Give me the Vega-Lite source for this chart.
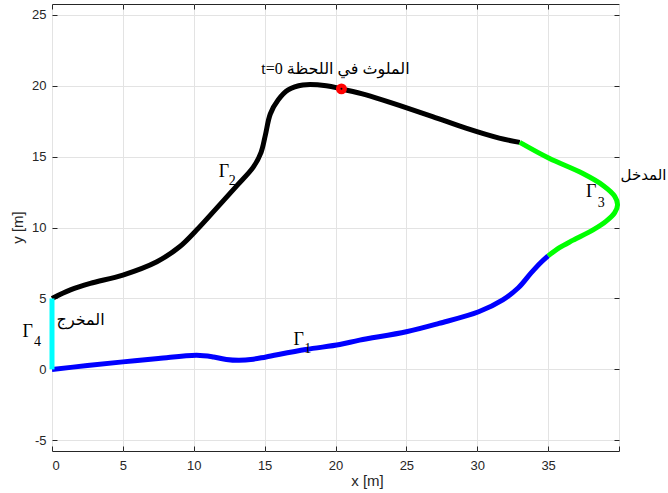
{
  "$schema": "https://vega.github.io/schema/vega-lite/v6.json",
  "width": 567,
  "height": 447,
  "autosize": "none",
  "padding": {"left": 52, "top": 4, "right": 49, "bottom": 42},
  "background": "white",
  "config": {
    "view": {"stroke": "#262626", "strokeWidth": 1},
    "axis": {
      "labelFont": "Liberation Sans",
      "labelFontSize": 13,
      "labelColor": "#262626",
      "titleFont": "Liberation Sans",
      "titleFontSize": 15,
      "titleFontWeight": "normal",
      "titleColor": "#262626",
      "gridColor": "#e3e3e3",
      "gridWidth": 1,
      "domain": false,
      "tickColor": "#262626",
      "tickSize": -5
    },
    "axisX": {"labelPadding": 13},
    "axisY": {"labelPadding": 11}
  },
  "datasets": {
    "curves": [
      {"c": "g1", "i": 0, "x": 0, "y": 0},
      {"c": "g1", "i": 1, "x": 2.5, "y": 0.27},
      {"c": "g1", "i": 2, "x": 5, "y": 0.53},
      {"c": "g1", "i": 3, "x": 7.5, "y": 0.77},
      {"c": "g1", "i": 4, "x": 10.2, "y": 1.0},
      {"c": "g1", "i": 5, "x": 11.4, "y": 0.88},
      {"c": "g1", "i": 6, "x": 12.3, "y": 0.7},
      {"c": "g1", "i": 7, "x": 13.2, "y": 0.64},
      {"c": "g1", "i": 8, "x": 14.2, "y": 0.72},
      {"c": "g1", "i": 9, "x": 15.1, "y": 0.88},
      {"c": "g1", "i": 10, "x": 17.9, "y": 1.4},
      {"c": "g1", "i": 11, "x": 20.3, "y": 1.75},
      {"c": "g1", "i": 12, "x": 21.7, "y": 2.06},
      {"c": "g1", "i": 13, "x": 25, "y": 2.65},
      {"c": "g1", "i": 14, "x": 27.3, "y": 3.24},
      {"c": "g1", "i": 15, "x": 30.1, "y": 4.06},
      {"c": "g1", "i": 16, "x": 31.8, "y": 4.9},
      {"c": "g1", "i": 17, "x": 32.9, "y": 5.75},
      {"c": "g1", "i": 18, "x": 33.8, "y": 6.8},
      {"c": "g1", "i": 19, "x": 34.45, "y": 7.5},
      {"c": "g1", "i": 20, "x": 35, "y": 8},
      {"c": "g2", "i": 0, "x": 0, "y": 5},
      {"c": "g2", "i": 1, "x": 1.3, "y": 5.6},
      {"c": "g2", "i": 2, "x": 2.7, "y": 6.06},
      {"c": "g2", "i": 3, "x": 5, "y": 6.65},
      {"c": "g2", "i": 4, "x": 7.4, "y": 7.59},
      {"c": "g2", "i": 5, "x": 9, "y": 8.64},
      {"c": "g2", "i": 6, "x": 10.2, "y": 9.82},
      {"c": "g2", "i": 7, "x": 11.6, "y": 11.35},
      {"c": "g2", "i": 8, "x": 13, "y": 12.9},
      {"c": "g2", "i": 9, "x": 14.2, "y": 14.25},
      {"c": "g2", "i": 10, "x": 14.75, "y": 15.3},
      {"c": "g2", "i": 11, "x": 15.05, "y": 16.5},
      {"c": "g2", "i": 12, "x": 15.4, "y": 18.0},
      {"c": "g2", "i": 13, "x": 15.95, "y": 18.98},
      {"c": "g2", "i": 14, "x": 16.66, "y": 19.69},
      {"c": "g2", "i": 15, "x": 17.7, "y": 20.04},
      {"c": "g2", "i": 16, "x": 19.35, "y": 19.99},
      {"c": "g2", "i": 17, "x": 20.47, "y": 19.75},
      {"c": "g2", "i": 18, "x": 22.16, "y": 19.35},
      {"c": "g2", "i": 19, "x": 24.5, "y": 18.6},
      {"c": "g2", "i": 20, "x": 26.85, "y": 17.82},
      {"c": "g2", "i": 21, "x": 29.2, "y": 17.0},
      {"c": "g2", "i": 22, "x": 31.55, "y": 16.3},
      {"c": "g2", "i": 23, "x": 33, "y": 16},
      {"c": "g3", "i": 0, "x": 33, "y": 16},
      {"c": "g3", "i": 1, "x": 35.07, "y": 14.88},
      {"c": "g3", "i": 2, "x": 37.42, "y": 13.82},
      {"c": "g3", "i": 3, "x": 38.9, "y": 12.95},
      {"c": "g3", "i": 4, "x": 39.7, "y": 12.2},
      {"c": "g3", "i": 5, "x": 39.9, "y": 11.6},
      {"c": "g3", "i": 6, "x": 39.7, "y": 11.05},
      {"c": "g3", "i": 7, "x": 39.1, "y": 10.45},
      {"c": "g3", "i": 8, "x": 38.2, "y": 9.85},
      {"c": "g3", "i": 9, "x": 36.77, "y": 9.11},
      {"c": "g3", "i": 10, "x": 35.8, "y": 8.58},
      {"c": "g3", "i": 11, "x": 35, "y": 8},
      {"c": "g4", "i": 0, "x": 0, "y": 0},
      {"c": "g4", "i": 1, "x": 0, "y": 5}
    ],
    "marker": [{"x": 20.42, "y": 19.77}],
    "labels": [
      {"kind": "gamma", "t": "Γ", "x": 12.13, "y": 13.55},
      {"kind": "gamma", "t": "Γ", "x": 17.41, "y": 1.71},
      {"kind": "gamma", "t": "Γ", "x": 38.04, "y": 12.17},
      {"kind": "gamma", "t": "Γ", "x": -1.71, "y": 2.29},
      {"kind": "sub", "t": "2", "x": 12.72, "y": 12.99},
      {"kind": "sub", "t": "1", "x": 18.05, "y": 1.14},
      {"kind": "sub", "t": "3", "x": 38.74, "y": 11.46},
      {"kind": "sub", "t": "4", "x": -1.02, "y": 1.64},
      {"kind": "arabic", "t": "t=0 الملوث في اللحظة", "x": 20.0, "y": 20.82},
      {"kind": "arabic", "t": "المخرج", "x": 2.02, "y": 3.12}
    ],
    "rlabels": [
      {"t": "المدخل", "x": 43.35, "y": 13.32}
    ]
  },
  "resolve": {"axis": {"x": "independent", "y": "independent"}},
  "layer": [
    {
      "data": {"name": "curves"},
      "mark": {"type": "line", "strokeWidth": 5, "interpolate": "catmull-rom", "strokeCap": "butt"},
      "encoding": {
        "x": {"field": "x", "type": "quantitative", "scale": {"domain": [0, 40], "nice": false, "zero": false},
              "axis": {"values": [0, 5, 10, 15, 20, 25, 30, 35, 40], "labelExpr": "datum.value == 40 ? '' : '' + datum.value", "title": "x [m]", "titleX": 315, "titleY": 34, "titleBaseline": "alphabetic", "titleAnchor": null}},
        "y": {"field": "y", "type": "quantitative", "scale": {"domain": [-5.75, 25.75], "nice": false, "zero": false},
              "axis": {"values": [-5, 0, 5, 10, 15, 20, 25], "labelExpr": "'' + datum.value", "title": "y [m]", "titleX": -30, "titleY": 223, "titleAngle": -90, "titleBaseline": "alphabetic", "titleAlign": "center"}},
        "color": {"field": "c", "type": "nominal", "scale": {"domain": ["g1", "g2", "g3", "g4"], "range": ["#0000ff", "#000000", "#00ff00", "#00ffff"]}, "legend": null},
        "order": {"field": "i", "type": "quantitative"}
      }
    },
    {
      "data": {"name": "marker"},
      "mark": {"type": "point", "filled": true, "shape": "circle", "size": 120, "color": "#ff0000", "opacity": 1},
      "encoding": {
        "x": {"field": "x", "type": "quantitative", "axis": {"orient": "top", "values": [0, 5, 10, 15, 20, 25, 30, 35], "labels": false, "grid": false, "title": null}},
        "y": {"field": "y", "type": "quantitative", "axis": {"orient": "right", "values": [-5, 0, 5, 10, 15, 20, 25], "labels": false, "grid": false, "title": null}}
      }
    },
    {
      "data": {"name": "marker"},
      "mark": {"type": "point", "filled": true, "shape": "circle", "size": 4, "color": "#000000", "opacity": 1},
      "encoding": {
        "x": {"field": "x", "type": "quantitative", "axis": null},
        "y": {"field": "y", "type": "quantitative", "axis": null}
      }
    },
    {
      "data": {"name": "labels"},
      "transform": [{"filter": "datum.kind == 'gamma'"}],
      "mark": {"type": "text", "font": "Liberation Serif", "fontSize": 18, "color": "#000000", "baseline": "alphabetic", "align": "center"},
      "encoding": {
        "x": {"field": "x", "type": "quantitative", "axis": null},
        "y": {"field": "y", "type": "quantitative", "axis": null},
        "text": {"field": "t"}
      }
    },
    {
      "data": {"name": "labels"},
      "transform": [{"filter": "datum.kind == 'sub'"}],
      "mark": {"type": "text", "font": "Liberation Serif", "fontSize": 14, "color": "#000000", "baseline": "alphabetic", "align": "center"},
      "encoding": {
        "x": {"field": "x", "type": "quantitative", "axis": null},
        "y": {"field": "y", "type": "quantitative", "axis": null},
        "text": {"field": "t"}
      }
    },
    {
      "data": {"name": "labels"},
      "transform": [{"filter": "datum.kind == 'arabic'"}],
      "mark": {"type": "text", "font": "Liberation Serif, DejaVu Serif, DejaVu Sans", "fontSize": 16, "color": "#000000", "baseline": "alphabetic", "align": "center"},
      "encoding": {
        "x": {"field": "x", "type": "quantitative", "axis": null},
        "y": {"field": "y", "type": "quantitative", "axis": null},
        "text": {"field": "t"}
      }
    },
    {
      "data": {"name": "rlabels"},
      "mark": {"type": "text", "font": "Liberation Serif, DejaVu Serif, DejaVu Sans", "fontSize": 15, "color": "#000000", "baseline": "alphabetic", "align": "right"},
      "encoding": {
        "x": {"field": "x", "type": "quantitative", "axis": null},
        "y": {"field": "y", "type": "quantitative", "axis": null},
        "text": {"field": "t"}
      }
    }
  ]
}
